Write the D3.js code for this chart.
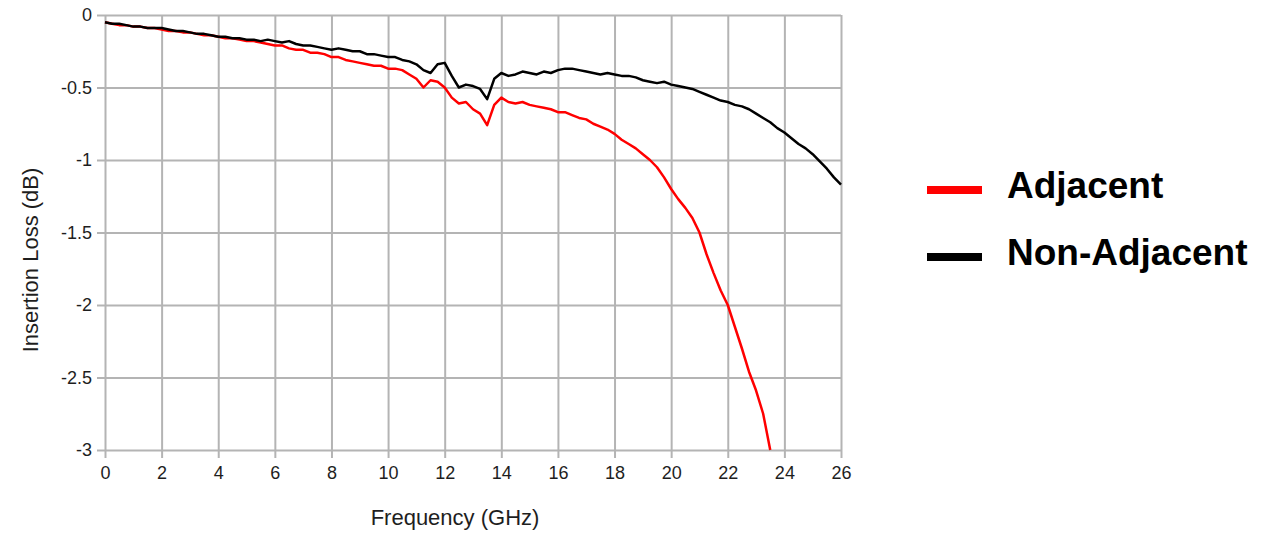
<!DOCTYPE html>
<html>
<head>
<meta charset="utf-8">
<script src="https://cdnjs.cloudflare.com/ajax/libs/d3/7.8.5/d3.min.js"></script>
<style>
  body { margin: 0; background: #fff; }
  svg { display: block; font-family: "Liberation Sans", Arial, sans-serif; }
</style>
</head>
<body>
<div id="chart"></div>
<script>
// frequency grid (GHz)
var freq = [0,0.25,0.5,0.75,1,1.25,1.5,1.75,2,2.25,2.5,2.75,3,3.25,3.5,3.75,4,4.25,4.5,4.75,
  5,5.25,5.5,5.75,6,6.25,6.5,6.75,7,7.25,7.5,7.75,8,8.25,8.5,8.75,9,9.25,9.5,9.75,
  10,10.25,10.5,10.75,11,11.25,11.5,11.75,12,12.25,12.5,12.75,13,13.25,13.5,13.75,
  14,14.25,14.5,14.75,15,15.25,15.5,15.75,16,16.25,16.5,16.75,17,17.25,17.5,17.75,
  18,18.25,18.5,18.75,19,19.25,19.5,19.75,20,20.25,20.5,20.75,21,21.25,21.5,21.75,
  22,22.25,22.5,22.75,23,23.25,23.5,23.75,24,24.25,24.5,24.75,25,25.25,25.5,25.75,26];

// insertion loss (dB), adjacent: ends at 23.5 GHz
var adjacent = [-0.05,-0.06,-0.07,-0.07,-0.08,-0.08,-0.09,-0.09,-0.10,-0.11,-0.11,-0.12,-0.12,-0.13,-0.14,-0.14,
  -0.15,-0.16,-0.16,-0.17,-0.18,-0.18,-0.19,-0.20,-0.21,-0.21,-0.23,-0.24,-0.24,-0.26,-0.26,-0.27,
  -0.29,-0.29,-0.31,-0.32,-0.33,-0.34,-0.35,-0.35,-0.37,-0.37,-0.38,-0.41,-0.44,-0.50,-0.45,-0.46,
  -0.50,-0.57,-0.61,-0.60,-0.65,-0.68,-0.76,-0.62,-0.57,-0.60,-0.61,-0.60,-0.62,-0.63,-0.64,-0.65,
  -0.67,-0.67,-0.69,-0.71,-0.72,-0.75,-0.77,-0.79,-0.82,-0.86,-0.89,-0.92,-0.96,-1.00,-1.05,-1.12,
  -1.20,-1.27,-1.33,-1.40,-1.50,-1.65,-1.78,-1.90,-2.00,-2.15,-2.30,-2.46,-2.59,-2.75,-3.00];

// insertion loss (dB), non-adjacent
var nonAdjacent = [-0.05,-0.06,-0.06,-0.07,-0.08,-0.08,-0.09,-0.09,-0.09,-0.10,-0.11,-0.11,-0.12,-0.13,-0.13,-0.14,
  -0.15,-0.15,-0.16,-0.16,-0.17,-0.17,-0.18,-0.17,-0.18,-0.19,-0.18,-0.20,-0.21,-0.21,-0.22,-0.23,
  -0.24,-0.23,-0.24,-0.25,-0.25,-0.27,-0.27,-0.28,-0.29,-0.29,-0.31,-0.32,-0.34,-0.38,-0.40,-0.34,
  -0.33,-0.42,-0.50,-0.48,-0.49,-0.51,-0.58,-0.44,-0.40,-0.42,-0.41,-0.39,-0.40,-0.41,-0.39,-0.40,
  -0.38,-0.37,-0.37,-0.38,-0.39,-0.40,-0.41,-0.40,-0.41,-0.42,-0.42,-0.43,-0.45,-0.46,-0.47,-0.46,
  -0.48,-0.49,-0.50,-0.51,-0.53,-0.55,-0.57,-0.59,-0.60,-0.62,-0.63,-0.65,-0.68,-0.71,-0.74,-0.78,
  -0.81,-0.85,-0.89,-0.92,-0.96,-1.01,-1.06,-1.12,-1.17];

var xTicks = [0,2,4,6,8,10,12,14,16,18,20,22,24,26];
var yTicks = [0,-0.5,-1,-1.5,-2,-2.5,-3];

var series = [
  { name: "Adjacent", color: "#ff0000", values: adjacent },
  { name: "Non-Adjacent", color: "#000000", values: nonAdjacent }
];

var W = 1276, H = 533;
var margins = { top: 15, left: 105, right: 435, bottom: 83 },
    width = W - margins.left - margins.right,
    height = H - margins.top - margins.bottom;

var svg = d3.select('#chart').append('svg')
            .attr('width', W)
            .attr('height', H);

var xScale = d3.scaleLinear().domain([0, 26]).range([0, width]);
var yScale = d3.scaleLinear().domain([-3, 0]).range([height, 0]);

var plot = svg.append('g')
              .attr('transform', 'translate(' + margins.left + ',' + margins.top + ')');

// grid
plot.append('g')
    .call(d3.axisLeft(yScale).tickValues(yTicks).tickSize(-width).tickFormat(''))
    .call(g => g.select('.domain').remove());
plot.append('g')
    .attr('transform', 'translate(0,' + height + ')')
    .call(d3.axisBottom(xScale).tickValues(xTicks).tickSize(-height).tickFormat(''))
    .call(g => g.select('.domain').remove());
plot.selectAll('.tick line').attr('stroke', '#b4b4b4').attr('stroke-width', 2);

// axes with outside ticks (plain hyphen for negatives)
var yAxis = plot.append('g')
    .call(d3.axisLeft(yScale).tickValues(yTicks).tickSize(8).tickPadding(5)
            .tickFormat(function (d) { return String(d); }));
var xAxis = plot.append('g')
    .attr('transform', 'translate(0,' + height + ')')
    .call(d3.axisBottom(xScale).tickValues(xTicks).tickSize(8).tickPadding(8));
[yAxis, xAxis].forEach(function (a) {
  a.select('.domain').remove();
  a.selectAll('.tick line').attr('stroke', '#b4b4b4').attr('stroke-width', 2);
  a.selectAll('.tick text').attr('fill', '#1e1e1e').style('font-size', '18px')
   .style('font-family', '"Liberation Sans", Arial, sans-serif');
});

// curves
var line = d3.line()
    .x(function (d) { return xScale(d[0]); })
    .y(function (d) { return yScale(d[1]); });

series.forEach(function (s) {
  plot.append('path')
      .datum(s.values.map(function (v, i) { return [freq[i], v]; }))
      .attr('fill', 'none')
      .attr('stroke', s.color)
      .attr('stroke-width', 2.5)
      .attr('stroke-linejoin', 'round')
      .attr('d', line);
});

// axis titles
svg.append('text')
   .attr('x', 455)
   .attr('y', 525)
   .attr('text-anchor', 'middle')
   .attr('fill', '#1e1e1e')
   .style('font-size', '22px')
   .text('Frequency (GHz)');

svg.append('text')
   .attr('transform', 'translate(38,260) rotate(-90)')
   .attr('text-anchor', 'middle')
   .attr('fill', '#1e1e1e')
   .style('font-size', '22px')
   .text('Insertion Loss (dB)');

// legend
var legend = svg.append('g').attr('transform', 'translate(927,190)');
series.forEach(function (s, i) {
  var g = legend.append('g').attr('transform', 'translate(0,' + (i * 67) + ')');
  g.append('line')
   .attr('x1', 0).attr('x2', 55)
   .attr('stroke', s.color)
   .attr('stroke-width', 8);
  g.append('text')
   .attr('x', 80)
   .attr('y', 8)
   .style('font-size', '37px')
   .style('font-weight', 'bold')
   .attr('fill', '#000')
   .text(s.name);
});
</script>
</body>
</html>
